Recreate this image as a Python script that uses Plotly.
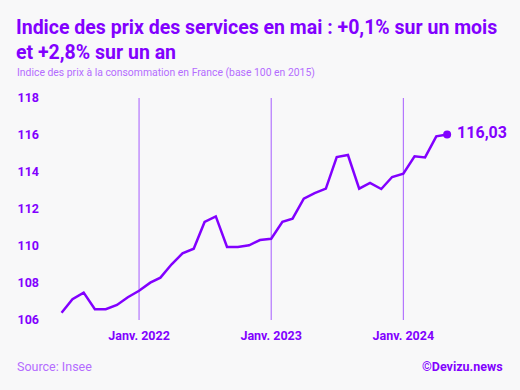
import datetime as dt
import plotly.graph_objects as go

# ---- data ----
months = [
    "2021-06", "2021-07", "2021-08", "2021-09", "2021-10", "2021-11", "2021-12",
    "2022-01", "2022-02", "2022-03", "2022-04", "2022-05", "2022-06", "2022-07",
    "2022-08", "2022-09", "2022-10", "2022-11", "2022-12",
    "2023-01", "2023-02", "2023-03", "2023-04", "2023-05", "2023-06", "2023-07",
    "2023-08", "2023-09", "2023-10", "2023-11", "2023-12",
    "2024-01", "2024-02", "2024-03", "2024-04", "2024-05",
]
values = [
    106.39, 107.12, 107.48, 106.58, 106.58, 106.81, 107.23,
    107.58, 108.02, 108.29, 109.01, 109.60, 109.85, 111.30,
    111.60, 109.95, 109.95, 110.04, 110.32,
    110.39, 111.31, 111.48, 112.56, 112.86, 113.10, 114.81,
    114.92, 113.10, 113.41, 113.08, 113.73,
    113.91, 114.85, 114.79, 115.93, 116.03,
]
x_tick_dates = ["2022-01-01", "2023-01-01", "2024-01-01"]
x_tick_labels = ["Janv. 2022", "Janv. 2023", "Janv. 2024"]
y_ticks = [106, 108, 110, 112, 114, 116, 118]
last_label = "116,03"

# ---- style ----
PURPLE = "#8200ff"
LIGHT = "#b46cff"
GRID = "#a65cff"
BG = "#f8f8f9"
FONT = "Roboto"

dates = [m + "-01" for m in months]

# x range so that months land where they do in the reference
L, R = 50, 500
T, B = 98, 320
x_jan22, x_jan24 = 139.3, 403.3
d0 = dt.date(2022, 1, 1)
px_per_day = (x_jan24 - x_jan22) / (dt.date(2024, 1, 1) - d0).days
start = d0 - dt.timedelta(days=(x_jan22 - L) / px_per_day)
end = d0 + dt.timedelta(days=(R - x_jan22) / px_per_day)

W = R - L
H = B - T


def px(x):
    return (x - L) / W


def py(y):
    return (B - y) / H


fig = go.Figure()
for d in x_tick_dates:
    fig.add_shape(type="line", xref="x", yref="paper", x0=d, x1=d, y0=0, y1=1,
                  line=dict(color=GRID, width=1), layer="below")
fig.add_trace(go.Scatter(
    x=dates, y=values, mode="lines",
    line=dict(color=PURPLE, width=2.5),
    hoverinfo="skip", showlegend=False,
))
fig.add_trace(go.Scatter(
    x=[dates[-1]], y=[values[-1]], mode="markers+text",
    marker=dict(color=PURPLE, size=8),
    text=[" " + last_label], textposition="middle right",
    textfont=dict(family=FONT, size=16, color=PURPLE, weight=700),
    hoverinfo="skip", showlegend=False, cliponaxis=False,
))

fig.update_layout(
    width=520, height=390,
    paper_bgcolor=BG, plot_bgcolor=BG,
    margin=dict(l=L, r=520 - R, t=T, b=390 - B),
    font=dict(family=FONT, color=PURPLE),
    xaxis=dict(
        type="date", range=[start.isoformat(), end.isoformat()],
        tickvals=x_tick_dates, ticktext=x_tick_labels,
        showgrid=False,
        zeroline=False, showline=False, ticks="",
        tickfont=dict(family=FONT, size=12.5, color=PURPLE, weight=700),
        ticklabelstandoff=6,
    ),
    yaxis=dict(
        range=[106, 118], tickvals=y_ticks,
        showgrid=False, zeroline=False, showline=False, ticks="",
        tickfont=dict(family=FONT, size=12.5, color=PURPLE, weight=700),
        ticklabelstandoff=10,
    ),
    annotations=[
        dict(text="Indice des prix des services en mai : +0,1% sur un mois<br>et +2,8% sur un an",
             xref="paper", yref="paper", x=px(14), y=py(14),
             xanchor="left", yanchor="top", align="left", showarrow=False,
             font=dict(family=FONT, size=19.5, color=PURPLE, weight=700)),
        dict(text="Indice des prix à la consommation en France (base 100 en 2015)",
             xref="paper", yref="paper", x=px(15), y=py(64),
             xanchor="left", yanchor="top", align="left", showarrow=False,
             font=dict(family=FONT, size=10.4, color=LIGHT)),
        dict(text="Source: Insee",
             xref="paper", yref="paper", x=px(15), y=py(357),
             xanchor="left", yanchor="top", showarrow=False,
             font=dict(family=FONT, size=12.5, color=LIGHT)),
        dict(text="©Devizu.news",
             xref="paper", yref="paper", x=px(505), y=py(357),
             xanchor="right", yanchor="top", showarrow=False,
             font=dict(family=FONT, size=12.5, color=PURPLE, weight=700)),
    ],
)

fig.write_html("out.html", config={"displayModeBar": False},
               post_script="document.body.style.margin='0';document.body.style.padding='0';")
